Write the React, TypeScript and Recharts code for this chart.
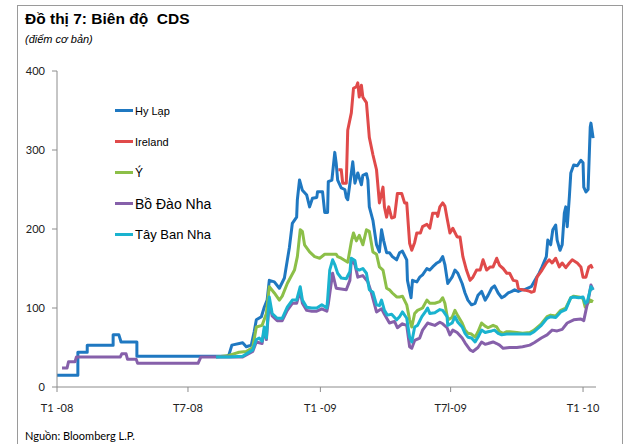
import { LineChart, Line, XAxis, YAxis } from 'recharts'

// days since 1 Jan 2008, CDS spread in basis points
const xTicks = [0, 182, 366, 547, 731]
const xTickLabels = ['T1 -08', 'T7-08', 'T1 -09', 'T7l-09', 'T1 -10']
const yTicks = [0, 100, 200, 300, 400]

const hyLap: [number, number][] = [
  [0, 15], [29, 15], [29, 44], [42, 44], [42, 53], [78, 53], [78, 66], [86, 66], [89, 57], [111, 57],
  [111, 39], [236, 39], [239, 41], [243, 53], [258, 56], [263, 51], [270, 53], [274, 70], [277, 85],
  [284, 89], [288, 101], [292, 110], [295, 135], [302, 133], [309, 125], [316, 138], [323, 177],
  [327, 207], [333, 215], [334, 237], [337, 262], [341, 249], [347, 243], [351, 228], [355, 239],
  [361, 240], [362, 247], [369, 247], [372, 221], [376, 221], [377, 260], [382, 262], [386, 297],
  [388, 283], [390, 262], [395, 252], [400, 250], [402, 240], [404, 237], [409, 271], [411, 285],
  [414, 258], [418, 271], [423, 256], [425, 268], [430, 270], [432, 262], [434, 228], [439, 211],
  [444, 180], [448, 171], [451, 199], [454, 185], [458, 170], [462, 170], [466, 165], [472, 161],
  [476, 170], [480, 172], [486, 161], [487, 135], [492, 113], [494, 135], [500, 133], [504, 139],
  [508, 142], [514, 150], [518, 148], [522, 152], [528, 157], [532, 159], [536, 165], [539, 155],
  [543, 131], [549, 139], [553, 148], [557, 144], [563, 131], [567, 119], [571, 110], [576, 104],
  [581, 106], [585, 116], [590, 121], [595, 110], [599, 116], [604, 125], [608, 128], [613, 119],
  [618, 113], [622, 115], [627, 119], [632, 121], [636, 123], [641, 121], [646, 123], [649, 123],
  [659, 127], [666, 138], [670, 144], [674, 152], [680, 165], [682, 186], [686, 180], [689, 199],
  [693, 205], [695, 186], [699, 173], [702, 180], [705, 220], [707, 228], [709, 203], [712, 241],
  [714, 271], [718, 281], [723, 280], [728, 287], [731, 284], [732, 253], [735, 247], [738, 250],
  [741, 329], [742, 334], [745, 315],
]

const ireland: [number, number][] = [
  [391, 275], [395, 275], [397, 258], [402, 258], [404, 325], [409, 347], [412, 378], [416, 380],
  [418, 385], [420, 367], [423, 382], [425, 367], [430, 360], [434, 316], [439, 294], [444, 275],
  [448, 233], [453, 253], [455, 228], [458, 215], [461, 228], [465, 214], [469, 215], [473, 245],
  [479, 245], [483, 233], [486, 233], [490, 182], [493, 173], [497, 183], [500, 195], [505, 195],
  [508, 203], [514, 206], [518, 201], [522, 220], [528, 220], [529, 216], [532, 228], [536, 233],
  [539, 229], [542, 214], [546, 195], [550, 201], [556, 190], [560, 190], [564, 165], [569, 148],
  [574, 135], [578, 139], [583, 148], [588, 148], [592, 161], [597, 148], [602, 152], [606, 152],
  [611, 163], [615, 154], [620, 150], [625, 144], [629, 144], [634, 135], [639, 134], [641, 125],
  [647, 123], [653, 122], [657, 121], [659, 120], [663, 121], [667, 139], [674, 148], [680, 157],
  [684, 161], [688, 157], [693, 163], [698, 152], [702, 157], [707, 151], [712, 157], [716, 161],
  [723, 157], [728, 152], [731, 139], [735, 139], [739, 152], [742, 154], [744, 150],
]

const y: [number, number][] = [
  [221, 38], [239, 40], [253, 44], [263, 45], [272, 50], [277, 76], [285, 78], [291, 93], [295, 127],
  [302, 119], [309, 110], [313, 115], [320, 131], [330, 148], [334, 165], [338, 199], [341, 197],
  [344, 180], [351, 171], [358, 165], [365, 163], [372, 168], [379, 168], [388, 168], [390, 165],
  [395, 163], [404, 158], [409, 184], [412, 195], [416, 185], [420, 192], [425, 180], [430, 199],
  [434, 197], [439, 171], [444, 168], [448, 152], [453, 148], [458, 125], [462, 123], [466, 119],
  [472, 114], [476, 114], [480, 115], [486, 104], [490, 85], [493, 76], [497, 93], [501, 97],
  [508, 100], [514, 110], [518, 106], [525, 106], [532, 108], [536, 113], [539, 106], [543, 85],
  [549, 88], [553, 97], [557, 90], [563, 81], [567, 72], [571, 68], [576, 67], [581, 63], [585, 70],
  [590, 81], [595, 77], [599, 75], [606, 78], [611, 76], [615, 70], [620, 68], [625, 70], [629, 70],
  [639, 69], [647, 68], [657, 69], [663, 72], [673, 80], [681, 89], [686, 91], [693, 90], [700, 97],
  [707, 100], [714, 113], [718, 115], [725, 114], [731, 112], [734, 101], [741, 110], [745, 108],
]

const boDaoNha: [number, number][] = [
  [7, 24], [14, 24], [16, 32], [25, 32], [27, 38], [88, 38], [90, 42], [96, 42], [98, 35], [110, 35],
  [112, 30], [196, 30], [200, 38], [221, 38], [258, 38], [272, 45], [277, 57], [285, 55], [288, 72],
  [291, 60], [295, 108], [299, 90], [306, 84], [313, 84], [320, 97], [327, 106], [333, 106],
  [338, 122], [341, 106], [347, 97], [354, 96], [361, 96], [368, 99], [375, 96], [377, 105],
  [383, 144], [388, 125], [402, 123], [407, 135], [409, 161], [414, 155], [418, 139], [425, 141],
  [432, 133], [437, 119], [444, 95], [451, 99], [455, 92], [462, 81], [469, 83], [473, 75], [480, 80],
  [486, 78], [490, 51], [493, 49], [497, 59], [504, 62], [508, 72], [515, 81], [518, 80], [525, 78],
  [532, 82], [536, 80], [542, 75], [546, 66], [550, 72], [556, 69], [563, 62], [567, 56], [574, 47],
  [578, 45], [585, 50], [590, 57], [595, 54], [599, 55], [606, 57], [611, 55], [615, 53], [620, 49],
  [629, 50], [639, 50], [647, 51], [657, 53], [663, 56], [673, 62], [681, 66], [688, 72], [695, 71],
  [702, 73], [709, 81], [718, 85], [728, 86], [732, 84], [735, 97], [739, 114], [742, 129], [745, 123],
]

const tayBanNha: [number, number][] = [
  [221, 38], [239, 38], [258, 39], [272, 47], [277, 60], [281, 62], [285, 58], [288, 76], [291, 62],
  [295, 114], [299, 93], [306, 87], [313, 87], [320, 101], [327, 110], [333, 110], [338, 127],
  [341, 110], [347, 101], [354, 100], [361, 100], [368, 104], [375, 100], [376, 110], [379, 148],
  [383, 161], [386, 155], [390, 144], [395, 138], [402, 137], [407, 146], [409, 163], [414, 160],
  [416, 150], [420, 148], [425, 150], [430, 144], [434, 123], [439, 120], [444, 104], [448, 103],
  [451, 110], [455, 97], [459, 91], [465, 92], [472, 85], [476, 89], [480, 95], [486, 87], [490, 63],
  [493, 57], [497, 76], [501, 78], [507, 89], [511, 94], [515, 100], [518, 93], [525, 94], [532, 98],
  [536, 97], [542, 89], [543, 78], [549, 81], [553, 89], [557, 82], [563, 76], [567, 68], [571, 63],
  [576, 62], [581, 57], [585, 63], [590, 72], [595, 69], [599, 70], [604, 71], [608, 72], [613, 68],
  [618, 66], [625, 67], [634, 67], [643, 67], [657, 67], [663, 70], [673, 78], [681, 87], [686, 89],
  [693, 88], [700, 95], [707, 98], [714, 113], [718, 114], [725, 113], [731, 114], [734, 106],
  [737, 108], [742, 127], [745, 123],
]

const SERIES = [
  { name: 'Hy Lạp', points: hyLap, color: '#1f78c1', fontSize: 11 },
  { name: 'Ireland', points: ireland, color: '#e04a4a', fontSize: 11 },
  { name: 'Ý', points: y, color: '#8cbf48', fontSize: 12 },
  { name: 'Bồ Đào Nha', points: boDaoNha, color: '#8660aa', fontSize: 14 },
  { name: 'Tây Ban Nha', points: tayBanNha, color: '#1ab3cf', fontSize: 13 },
]

const toRows = (pts: [number, number][]) => pts.map(([day, bps]) => ({ day, bps }))

const tickStyle = { fontSize: 11, fill: '#222', fontFamily: 'Lato, "Liberation Sans", sans-serif' }

export default function App() {
  return (
    <div style={{ position: 'absolute', left: 0, top: 0, width: 624, height: 444, background: '#fff', overflow: 'hidden' }}>
      <div style={{ position: 'absolute', left: 17, top: 5, width: 604, height: 460, borderLeft: '1px solid #9a9a9a', borderTop: '1px solid #9a9a9a', borderRight: '1px solid #9a9a9a' }} />
      <div style={{ position: 'absolute', left: 25, top: 10, fontFamily: '"Liberation Sans", Arial, sans-serif', fontWeight: 'bold', fontSize: 15.5, whiteSpace: 'pre', color: '#000' }}>
        {'Đồ thị 7: Biên độ  CDS'}
      </div>
      <div style={{ position: 'absolute', left: 25, top: 33, fontFamily: '"Liberation Sans", Arial, sans-serif', fontStyle: 'italic', fontSize: 11, color: '#000' }}>
        (điểm cơ bản)
      </div>
      <div style={{ position: 'absolute', left: 0, top: 0 }}>
        <LineChart width={624} height={444} margin={{ top: 71, right: 28, bottom: 0, left: 0 }}>
          <XAxis
            dataKey="day"
            type="number"
            domain={[0, 749]}
            ticks={xTicks}
            tickFormatter={(v: number) => xTickLabels[xTicks.indexOf(v)] ?? ''}
            height={57}
            tickSize={5}
            tickMargin={12}
            stroke="#8c8c8c"
            tick={tickStyle}
            allowDataOverflow
          />
          <YAxis
            type="number"
            domain={[0, 400]}
            ticks={yTicks}
            width={57}
            tickSize={5}
            tickMargin={7}
            stroke="#8c8c8c"
            tick={tickStyle}
          />
          {SERIES.map((s) => (
            <Line
              key={s.name}
              data={toRows(s.points)}
              dataKey="bps"
              name={s.name}
              type="linear"
              stroke={s.color}
              strokeWidth={3}
              strokeLinejoin="round"
              dot={false}
              activeDot={false}
              isAnimationActive={false}
            />
          ))}
        </LineChart>
      </div>
      <div style={{ position: 'absolute', left: 115, top: 95, fontFamily: '"Liberation Sans", Arial, sans-serif', color: '#000' }}>
        {SERIES.map((s) => (
          <div key={s.name} style={{ display: 'flex', alignItems: 'center', height: 31 }}>
            <span style={{ display: 'inline-block', width: 18, height: 3, background: s.color, marginRight: 2 }} />
            <span style={{ fontSize: s.fontSize }}>{s.name}</span>
          </div>
        ))}
      </div>
      <div style={{ position: 'absolute', left: 25, top: 429, fontFamily: 'Lato, "Liberation Sans", sans-serif', fontSize: 11, color: '#000' }}>
        Nguồn: Bloomberg L.P.
      </div>
    </div>
  )
}
